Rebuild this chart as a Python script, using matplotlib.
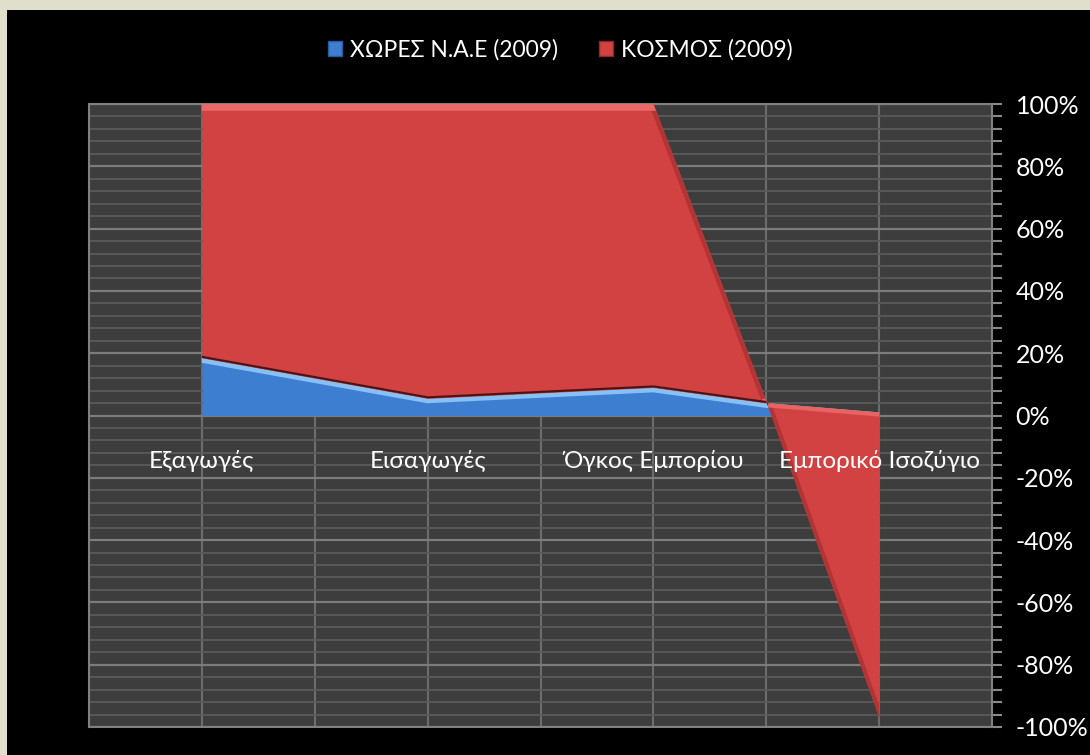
import numpy as np
import matplotlib.pyplot as plt
from matplotlib.patches import Patch, Rectangle
from matplotlib.ticker import MultipleLocator

plt.rcParams['font.family'] = ['Lato', 'Open Sans', 'DejaVu Sans']

# data (percent)
categories = ["Εξαγωγές", "Εισαγωγές", "Όγκος Εμπορίου", "Εμπορικό Ισοζύγιο"]
cat_pos = [0, 2, 4, 6]
point_pos = [0, 2, 4, 5, 6]
nae = [18.5, 5.5, 9.0, 4.0, 1.0]
kosmos = [81.5, 94.5, 91.0, 0.5, -98.0]
series_names = ["ΧΩΡΕΣ Ν.Α.Ε (2009)", "ΚΟΣΜΟΣ (2009)"]

blue = '#3e7ed0'
red = '#d34242'

fig = plt.figure(figsize=(10.9, 7.55), dpi=100)
fig.patch.set_facecolor('#e0dfcb')
fig.add_artist(Rectangle((7 / 1090, 0), 1, 1 - 10 / 755, transform=fig.transFigure,
                         facecolor='black', edgecolor='none', zorder=0))

ax = fig.add_axes([89 / 1090, 28 / 755, 903 / 1090, 623 / 755])
ax.set_facecolor('#3d3d3d')
ax.set_xlim(-1, 7)
ax.set_ylim(-100, 100)

# gridlines
ax.yaxis.set_major_locator(MultipleLocator(20))
ax.yaxis.set_minor_locator(MultipleLocator(4))
ax.grid(which='minor', axis='y', color='#5a5a5a', lw=1.3, zorder=0)
ax.grid(which='major', axis='y', color='#7c7c7c', lw=1.6, zorder=0)
for xv in range(-1, 8):
    ax.axvline(xv, color='#6c6c6c', lw=1.5, zorder=0)
ax.set_axisbelow(True)

x = np.array(point_pos, dtype=float)
nae_a = np.array(nae)
cum = nae_a + np.array(kosmos)

b = ax.fill_between(x, 0, nae_a, color=blue, lw=0, zorder=2)
r = ax.fill_between(x, nae_a, cum, color=red, lw=0, zorder=3)

# bevel-like highlights / shadows clipped to the areas
bp = b.get_paths()[0]
rp = r.get_paths()[0]
hl, = ax.plot(x, nae_a, color='#86c0f5', lw=7, zorder=2.5, solid_joinstyle='miter')
hl.set_clip_path(bp, ax.transData)
hr, = ax.plot(x[:3], cum[:3], color='#ec6868', lw=9, zorder=3.5)
hr.set_clip_path(rp, ax.transData)
dk, = ax.plot(x[2:], cum[2:], color='#b23434', lw=6, zorder=3.4, solid_joinstyle='miter')
dk.set_clip_path(rp, ax.transData)
hr2, = ax.plot(x[3:], nae_a[3:], color='#e86464', lw=6, zorder=3.5)
hr2.set_clip_path(rp, ax.transData)
sh, = ax.plot(x[:4], nae_a[:4], color='#4a1414', lw=3, zorder=3.6)
sh.set_clip_path(rp, ax.transData)

# right axis ticks
ax.yaxis.tick_right()
ax.tick_params(axis='y', which='both', length=7, width=1.5, color='#8a8a8a',
               direction='out', pad=10)
ax.tick_params(axis='y', which='major', labelsize=18, labelcolor='white')
ax.set_yticks(np.arange(-100, 101, 20))
ax.set_yticklabels([f"{v}%" for v in range(-100, 101, 20)])
ax.set_xticks([])
for s in ax.spines.values():
    s.set_color('#808080')
    s.set_linewidth(1.5)

for p, lab in zip(cat_pos, categories):
    ax.text(p, -14.5, lab, ha='center', va='center', color='white', fontsize=17.5, zorder=5)

handles = [Patch(facecolor=blue, edgecolor='#2a5a9a'), Patch(facecolor=red, edgecolor='#8a2a2a')]
fig.legend(handles, series_names, loc='center', bbox_to_anchor=(0.514, 0.934), ncol=2,
           frameon=False, labelcolor='white', handlelength=0.6,
           handleheight=0.6, handletextpad=0.35, columnspacing=1.8, fontsize=16.5)

fig.savefig('out.png', dpi=100, facecolor=fig.get_facecolor())
